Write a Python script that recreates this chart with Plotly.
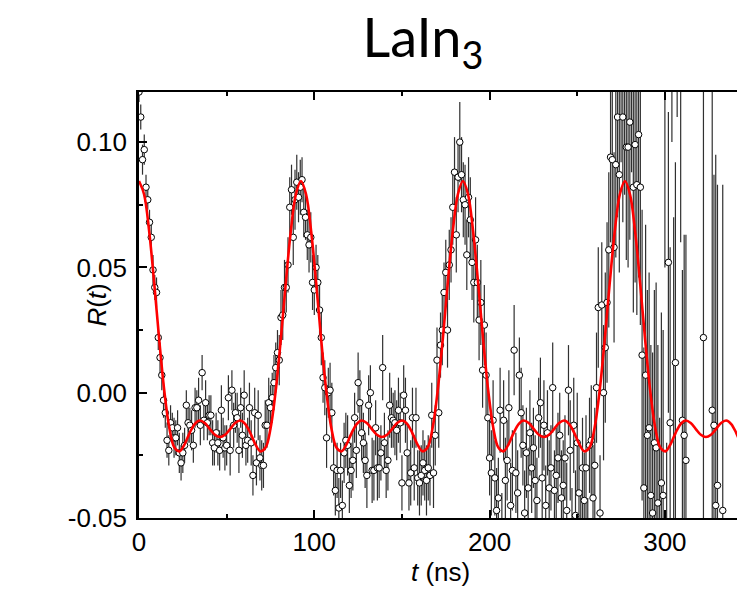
import plotly.graph_objects as go

# ---------------- data ----------------
# measured R(t), one time channel per ns starting at t = 0 ns
DATA_T0 = 0.0
DATA_DT = 1.0

R_P1 = [  # t = 0 .. 92
    .120, .110, .093, .097, .082, .077, .068, .062, .049, .042,
    .040, .022, .014, .007, -.003, -.008, -.019, -.023, -.012, -.014,
    -.018, -.018, -.014, -.024, -.028, -.024, -.021, -.005, -.012, -.013,
    -.015, -.021, -.006, -.006, -.003, -.013, .008, -.011, -.004, -.012,
    -.009, -.009, -.020, -.022, -.016, -.020, -.023, -.007, -.018, -.022,
    -.021, -.002, -.023, .001, -.013, -.008, -.010, -.023, -.006, -.017,
    -.001, -.021, -.019, -.006, -.020, -.033, -.008, -.028, -.009, -.026,
    -.029, -.029, -.013, -.013, -.004, -.006, -.002, .004, .010, .016,
    .013, .030, .031, .042, .042, .051, .074, .081, .062, .077,
    .084, .078, .082,
]
R_P2 = [  # t = 93 .. 184
    .085, .072, .070, .063, .059, .062, .044, .041, .050, .044,
    .033, .022, .006, .002, -.018, .000, .001, -.008, -.030, -.039,
    -.031, -.046, -.031, -.045, -.024, -.019, -.021, -.037, -.031, -.027,
    -.010, -.023, .004, -.004, -.016, -.020, -.027, -.033, -.005, .000,
    -.031, -.031, -.014, -.030, -.030, -.024, .010, -.020, -.031, -.027,
    -.005, -.010, -.011, -.012, -.015, -.007, -.012, -.036, -.001, -.007,
    -.024, -.036, -.032, -.010, -.030, -.010, -.034, -.036, -.033, -.028,
    -.031, -.035, -.030, -.033, -.009, -.032, -.017, .013, -.008, .019,
    .025, .040, .048, .025, .051, .057, .074, .088, .063, .086,
    .100, .087,
]
R_P3 = [  # t = 185 .. 277
    .077, .075, .055, .078, .069, .052, .044, .061, .044, .029,
    .036, .009, .027, .007, -.010, -.026, -.032, -.011, -.034, -.047,
    -.042, -.007, -.055, -.011, -.035, -.027, -.006, -.045, -.031, .017,
    -.032, -.040, .007, -.008, -.021, -.048, -.024, -.038, -.016, -.030,
    -.022, -.035, -.043, -.010, -.004, -.034, -.013, -.045, -.016, -.038,
    -.030, .002, -.039, -.033, -.026, -.017, -.042, -.037, -.026, -.047,
    .001, -.023, -.055, -.013, -.049, -.020, -.040, -.058, -.030, -.043,
    -.030, -.062, -.021, -.019, -.042, -.029, .002, .034, -.048, .035,
    .000, .018, .036, .057, .094, .093, .058, .091, .110, .087,
    .135, .110, .125,
]
R_P4 = [  # t = 278 .. 345
    .098, .098, .108, .140, .082, .099, .083, .103, .082, .015,
    -.038, .007, -.017, -.014, -.041, -.048, -.020, -.022, -.044, -.070,
    -.036, -.041, .150, -.090, .052, -.012, .180, -.090, .012, .200,
    -.150, .160, -.011, -.017, -.027, .250, -.200, .220, -.180, .300,
    -.250, .210, -.220, .260, .022, -.160, .290, -.300, .240, -.007,
    -.013, -.045, -.037, .320, -.280, -.047, .350, -.330, .300, -.310,
    .280, -.260, .330, -.300, .310, -.350, .360, -.320,
]

E_P1 = [
    .004, .005, .006, .006,
    .005, .004, .005, .005, .006, .005, .006, .005, .006, .006, .007, .006, .007, .006,
    .007, .006, .008, .007, .007, .008, .007, .008, .007, .006,
    .008, .007, .008, .007, .008, .007, .009, .008, .007, .008, .009, .007, .008,
    .008, .009, .007, .008, .009, .008, .010, .008, .009, .008,
    .009, .010, .008, .009, .008, .010, .009, .008, .009, .010,
    .008, .009, .010, .009, .008, .010, .009, .010, .009, .010,
    .009, .010, .009, .010, .009, .010, .011, .010, .009, .010,
    .011, .010, .011, .010, .011, .012, .010, .011, .012, .011,
    .010, .011,
]
E_P2 = [
    .009, .010, .009, .010, .011, .010, .011, .010, .009, .011,
    .010, .011, .010, .011, .012, .010, .011, .012, .011, .010,
    .011, .012, .011, .010, .012, .011, .012, .011,
    .011, .012, .010, .011, .012, .013, .011, .012, .011, .013,
    .012, .011, .013, .012, .011, .013, .012, .011, .013, .012,
    .011, .012, .013, .012, .011, .013, .012, .013, .012, .011,
    .012, .013, .012, .011, .013, .012, .013, .012, .011, .013,
    .012, .013, .012, .014, .013, .012, .013, .014, .012, .013,
    .014, .013, .014, .012, .013, .015, .014, .013, .015, .014,
    .015, .014, .016, .015,
]
E_P3 = [
    .015, .016, .014, .016, .017, .015, .016, .017, .015, .016,
    .017, .015, .016, .017, .016, .015, .017, .016, .015, .017,
    .016, .017, .015, .016, .017, .016, .015, .017, .016, .018,
    .016, .017, .015, .018, .016, .017, .018, .016, .017, .018,
    .016, .018, .017, .016, .018, .017,
    .018, .016, .017, .019, .017, .018, .016, .019, .018, .017,
    .019, .018, .017, .019, .018, .020, .017, .019, .018, .020,
    .019, .018, .020, .019, .021, .020, .019, .022, .021, .023,
    .022, .024, .023, .025, .027,
    .030, .032, .031, .034, .036, .038, .037, .040, .039, .043, .042, .046,
]
E_P4 = [
    .045, .048, .047, .052, .050, .055, .052, .057, .055, .058,
    .056, .060, .058, .062, .060, .064, .061, .066, .063, .060,
    .068, .066,
    .10, .07, .06, .07, .08, .16, .08, .09, .09, .10,
    .06, .08, .09, .10, .10, .09, .10, .12, .12, .08,
    .11, .10, .11, .10, .12, .13, .11, .13, .10, .14,
    .12, .13, .12, .13, .14, .15, .13, .14, .12, .13,
    .15, .14, .15, .16, .15, .16,
]

R_DATA = R_P1 + R_P2 + R_P3 + R_P4
R_ERR = E_P1 + E_P2 + E_P3 + E_P4
assert len(R_P1) == len(E_P1) == 93, (len(R_P1), len(E_P1))
assert len(R_P2) == len(E_P2) == 92, (len(R_P2), len(E_P2))
assert len(R_P3) == len(E_P3) == 93, (len(R_P3), len(E_P3))
assert len(R_P4) == len(E_P4) == 68, (len(R_P4), len(E_P4))

# fitted curve, read every 2.8875 ns
FIT_T0 = 0.0
FIT_DT = 2.8875
R_FIT = [
    .0845, .0792, .0646, .0438, .0210, .0007, -.0141, -.0219, -.0234, -.0206, -.0161,
    -.0125, -.0111, -.0121, -.0145, -.0168, -.0177, -.0168, -.0145, -.0121, -.0111,
    -.0125, -.0161, -.0206, -.0234, -.0219, -.0141, .0007, .0210, .0438, .0646, .0792,
    .0845, .0792, .0646, .0438, .0210, .0007, -.0141, -.0219, -.0234, -.0206, -.0161,
    -.0125, -.0111, -.0121, -.0145, -.0168, -.0177, -.0168, -.0145, -.0121, -.0111,
    -.0125, -.0161, -.0206, -.0234, -.0219, -.0141, .0007, .0210, .0438, .0646, .0792,
    .0845, .0792, .0646, .0438, .0210, .0007, -.0141, -.0219, -.0234, -.0206, -.0161,
    -.0125, -.0111, -.0121, -.0145, -.0168, -.0177, -.0168, -.0145, -.0121, -.0111,
    -.0125, -.0161, -.0206, -.0234, -.0219, -.0141, .0007, .0210, .0438, .0646, .0792,
    .0845, .0792, .0646, .0438, .0210, .0007, -.0141, -.0219, -.0234, -.0206, -.0161,
    -.0125, -.0111, -.0121, -.0145, -.0168, -.0177, -.0168, -.0145, -.0121, -.0111,
    -.0125, -.0161, -.0206, -.0234,
]

X_RANGE = [0, 345.7]
Y_RANGE = [-0.05, 0.12]
X_TICKS = [0, 100, 200, 300]
X_TICK_LABELS = ["0", "100", "200", "300"]
X_MINOR = [50, 150, 250]
Y_TICKS = [-0.05, 0.0, 0.05, 0.10]
Y_TICK_LABELS = ["-0.05", "0.00", "0.05", "0.10"]
Y_MINOR = [-0.025, 0.025, 0.075]

TITLE = "LaIn<sub>3</sub>"
X_TITLE = "<i>t</i> (ns)"
Y_TITLE = "<i>R</i>(<i>t</i>)"

# ---------------- figure ----------------
AX_FONT = dict(family="Liberation Sans, Arial, sans-serif", size=26, color="black")

fig = go.Figure()
fig.add_trace(go.Scatter(
    x0=DATA_T0, dx=DATA_DT, y=R_DATA, mode="markers",
    marker=dict(symbol="circle", size=6.5, color="white",
                line=dict(color="black", width=1)),
    error_y=dict(type="data", array=R_ERR, visible=True,
                 color="rgba(25,25,25,0.9)", thickness=1.2, width=0),
    hoverinfo="skip",
))
fig.add_trace(go.Scatter(
    x0=FIT_T0, dx=FIT_DT, y=R_FIT, mode="lines",
    line=dict(color="#ff0000", width=2.6, shape="spline", smoothing=1.0),
    hoverinfo="skip",
))

axis_common = dict(
    showline=True, linecolor="black", showgrid=False, zeroline=False,
    ticks="inside", ticklen=8, tickwidth=2, tickcolor="black",
    tickfont=AX_FONT, tickmode="array",
)

# page body has an 8 px margin, so the figure is 8 px smaller and shifted
fig.update_layout(
    width=737, height=583,
    margin=dict(l=131, r=0, t=84, b=73),
    paper_bgcolor="white", plot_bgcolor="white",
    showlegend=False,
    title=dict(text=TITLE, xref="container", x=0.563, xanchor="center",
               yref="container", y=0.948, yanchor="middle",
               font=dict(family="Lato, sans-serif", size=54, color="black")),
    xaxis=dict(range=X_RANGE, tickvals=X_TICKS, ticktext=X_TICK_LABELS,
               linewidth=2.2, mirror="allticks",
               minor=dict(tickmode="array", tickvals=X_MINOR, ticks="inside",
                          ticklen=4, tickwidth=2, tickcolor="black", showgrid=False),
               **axis_common),
    yaxis=dict(range=Y_RANGE, tickvals=Y_TICKS, ticktext=Y_TICK_LABELS,
               linewidth=2.6, mirror=False, ticklabelstandoff=4,
               minor=dict(tickmode="array", tickvals=Y_MINOR, ticks="inside",
                          ticklen=4, tickwidth=2, tickcolor="black", showgrid=False),
               **axis_common),
    annotations=[
        dict(text=Y_TITLE, xref="paper", yref="paper", x=-0.07, y=0.5,
             xanchor="center", yanchor="middle", textangle=-90, showarrow=False,
             font=dict(family="Liberation Sans, Arial, sans-serif", size=26, color="black")),
        dict(text=X_TITLE, xref="paper", yref="paper", x=0.498, y=-0.127,
             xanchor="center", yanchor="middle", showarrow=False,
             font=dict(family="Liberation Sans, Arial, sans-serif", size=26, color="black")),
    ],
)

fig.write_html("out.html")
